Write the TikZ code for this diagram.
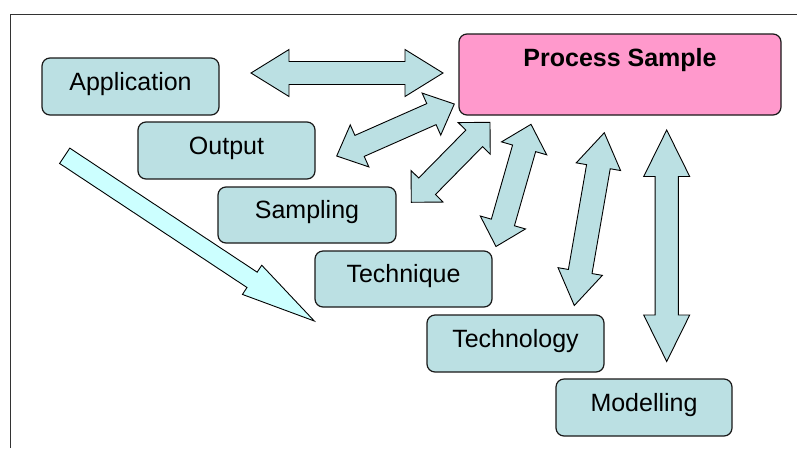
\documentclass[tikz,border=0pt]{standalone}
\usepackage{fontspec}
\setmainfont{Liberation Sans}
\usetikzlibrary{calc}

\definecolor{boxfill}{HTML}{BBE0E3}
\definecolor{pinkfill}{HTML}{FF99CC}
\definecolor{cyanfill}{HTML}{CCFFFF}
\definecolor{framegray}{HTML}{333333}

\tikzset{
  topic/.style={draw=black!90, line width=1.2pt, fill=boxfill, rounded corners=8pt,
    inner sep=0pt, text height=18pt, text depth=11pt,
    font=\fontsize{25}{30}\selectfont},
  blockarrow/.style={draw=black, line width=0.9pt, fill=boxfill, line join=miter},
  bigarrow/.style={draw=black, line width=0.9pt, fill=cyanfill, line join=miter},
}

% double-headed block arrow: from, to, shaft width, head width, head length
\newcommand\blockdbl[5]{%
  \path let \p1=(#1), \p2=(#2) in \pgfextra{%
    \pgfmathsetmacro\ArrAng{atan2(\y2-\y1,\x2-\x1)}%
    \pgfmathsetmacro\ArrLen{veclen(\x2-\x1,\y2-\y1)}%
    \xdef\ArrAng{\ArrAng}\xdef\ArrLen{\ArrLen}\xdef\ArrX{\x1}\xdef\ArrY{\y1}};
  \begin{scope}[shift={(\ArrX,\ArrY)}, rotate=\ArrAng]
    \pgfmathsetmacro\ArrS{#3/2}\pgfmathsetmacro\ArrH{#4/2}\pgfmathsetmacro\ArrE{\ArrLen-#5}
    \draw[blockarrow] (0,0) -- (#5,\ArrH) -- (#5,\ArrS) -- (\ArrE,\ArrS) -- (\ArrE,\ArrH)
      -- (\ArrLen,0) -- (\ArrE,-\ArrH) -- (\ArrE,-\ArrS) -- (#5,-\ArrS) -- (#5,-\ArrH) -- cycle;
  \end{scope}}

% single-headed block arrow with a square tail: from, to, shaft width, head width, head length
\newcommand\blocksgl[5]{%
  \path let \p1=(#1), \p2=(#2) in \pgfextra{%
    \pgfmathsetmacro\ArrAng{atan2(\y2-\y1,\x2-\x1)}%
    \pgfmathsetmacro\ArrLen{veclen(\x2-\x1,\y2-\y1)}%
    \xdef\ArrAng{\ArrAng}\xdef\ArrLen{\ArrLen}\xdef\ArrX{\x1}\xdef\ArrY{\y1}};
  \begin{scope}[shift={(\ArrX,\ArrY)}, rotate=\ArrAng]
    \pgfmathsetmacro\ArrS{#3/2}\pgfmathsetmacro\ArrH{#4/2}\pgfmathsetmacro\ArrE{\ArrLen-#5}
    \draw[bigarrow] (0,\ArrS) -- (\ArrE,\ArrS) -- (\ArrE,\ArrH) -- (\ArrLen,0)
      -- (\ArrE,-\ArrH) -- (\ArrE,-\ArrS) -- (0,-\ArrS) -- cycle;
  \end{scope}}

\begin{document}
\begin{tikzpicture}[x=1pt, y=-1pt]
  \useasboundingbox (0,0) rectangle (797,448);
  \fill[white] (0,0) rectangle (797,448);

  % slide frame (only top and left edges fall inside)
  \draw[framegray, line width=1.2pt] (10.7,448) |- (797,14.7);

  % topic boxes
  \node[topic, minimum width=177pt, minimum height=57pt] (app)  at (130.5,86.5) {Application};
  \node[topic, minimum width=177pt, minimum height=57pt] (out)  at (226.5,150.5) {Output};
  \node[topic, minimum width=178pt, minimum height=56pt] (samp) at (307,215) {Sampling};
  \node[topic, minimum width=177pt, minimum height=56pt] (tech) at (403.5,279) {Technique};
  \node[topic, minimum width=177pt, minimum height=57pt] (tgy)  at (515.5,343.5) {Technology};
  \node[topic, minimum width=176pt, minimum height=57pt] (mod)  at (644,407.5) {Modelling};

  % central box, title near the top
  \node[topic, fill=pinkfill, minimum width=322pt, minimum height=81pt,
        text height=18pt, text depth=33.6pt, font=\fontsize{25}{30}\selectfont\bfseries]
        (ps) at (620,74.5) {Process Sample};

  % arrow end points
  \coordinate (a1s) at (251,73);      \coordinate (a1e) at (443,73);
  \coordinate (a2s) at (336.7,156);   \coordinate (a2e) at (454.3,104);
  \coordinate (a3s) at (411.3,202.3); \coordinate (a3e) at (490,122.3);
  \coordinate (a4s) at (496,246.5);   \coordinate (a4e) at (531,124.3);
  \coordinate (a5s) at (574.3,305.5); \coordinate (a5e) at (604.3,132.7);
  \coordinate (a6s) at (666.7,361.5); \coordinate (a6e) at (666.7,130);
  \coordinate (a7s) at (64.7,155.8);  \coordinate (a7e) at (314.3,321);

  % two-way links to the central box
  \blockdbl{a1s}{a1e}{23}{47}{38}
  \blockdbl{a2s}{a2e}{23}{46}{25}
  \blockdbl{a3s}{a3e}{23.5}{45}{22.5}
  \blockdbl{a4s}{a4e}{24}{47}{25}
  \blockdbl{a5s}{a5e}{24}{45}{34.5}
  \blockdbl{a6s}{a6e}{23.3}{46}{46.5}

  % long diagonal arrow
  \blocksgl{a7s}{a7e}{18.4}{35}{74.6}
\end{tikzpicture}
\end{document}
